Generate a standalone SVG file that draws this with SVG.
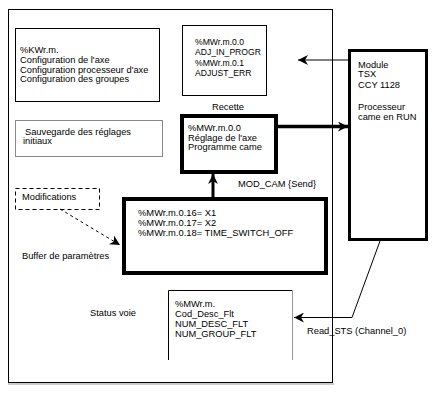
<svg xmlns="http://www.w3.org/2000/svg" width="440" height="406" viewBox="0 0 440 406">
<style>
text{font-family:"Liberation Sans",Arial,sans-serif;font-size:9.3px;fill:#000}
.big{font-size:9.4px}
.sm{font-size:8.6px}
.box{fill:#fff;stroke:#000;stroke-width:1}
.thick{fill:#fff;stroke:#000;stroke-width:4}
.ln{fill:none;stroke:#000;stroke-width:1}
</style>
<defs>
<marker id="ah" viewBox="0 0 10 10" refX="10" refY="5" markerWidth="12" markerHeight="10" markerUnits="userSpaceOnUse" orient="auto">
<path d="M0,0 L10,5 L0,10 L3,5 Z" fill="#000"/>
</marker>
<marker id="ahb" viewBox="0 0 10 10" refX="10" refY="5" markerWidth="12" markerHeight="10" markerUnits="userSpaceOnUse" orient="auto">
<path d="M0,0 L10,5 L0,10 L3,5 Z" fill="#000"/>
</marker>
</defs>
<rect width="440" height="406" fill="#fff"/>
<g id="frame">
<rect x="8.5" y="9.5" width="324" height="373" fill="none" stroke="#000"/>
<line x1="8" y1="384" x2="334" y2="384" stroke="#999"/>
</g>
<g id="config">
<rect class="box" x="15.5" y="28.5" width="144" height="73"/>
<text x="20" y="53">%KWr.m.</text>
<text x="20" y="63">Configuration de l'axe</text>
<text x="20" y="72.5">Configuration processeur d'axe</text>
<text x="20" y="82">Configuration des groupes</text>
</g>
<g id="sauvegarde">
<rect x="15.5" y="120.5" width="147" height="36" fill="#fff" stroke="#888"/>
<text x="25" y="134.5">Sauvegarde des réglages</text>
<text x="23" y="144">initiaux</text>
</g>
<g id="recette">
<rect class="box" x="182.5" y="25.5" width="84" height="70"/>
<text class="sm" x="195" y="45">%MWr.m.0.0</text>
<text class="sm" x="195" y="55">ADJ_IN_PROGR</text>
<text class="sm" x="195" y="66">%MWr.m.0.1</text>
<text class="sm" x="195" y="76">ADJUST_ERR</text>
<text x="228" y="110" text-anchor="middle">Recette</text>
</g>
<g id="reglage">
<rect class="thick" x="182" y="116" width="94" height="56"/>
<text x="188" y="131">%MWr.m.0.0</text>
<text x="188" y="140.5">Réglage de l'axe</text>
<text x="188" y="150">Programme came</text>
</g>
<g id="module">
<rect x="349.5" y="50.5" width="77" height="189" fill="#fff" stroke="#000" stroke-width="3"/>
<text x="358" y="68">Module</text>
<text x="358" y="77">TSX</text>
<text x="358" y="88">CCY 1128</text>
<text x="358" y="110">Processeur</text>
<text x="358" y="120">came en RUN</text>
</g>
<g id="modifications">
<rect x="15.5" y="188.5" width="84" height="21" fill="#fff" stroke="#000" stroke-dasharray="4,3"/>
<text x="22" y="200">Modifications</text>
</g>
<g id="buffer">
<rect class="thick" x="124" y="199" width="202" height="74"/>
<text class="big" x="138" y="216">%MWr.m.0.16= X1</text>
<text class="big" x="138" y="226">%MWr.m.0.17= X2</text>
<text class="big" x="138" y="236">%MWr.m.0.18= TIME_SWITCH_OFF</text>
<text x="22" y="259">Buffer de paramètres</text>
</g>
<g id="status">
<path d="M168.5,360 V290.5 H292" fill="none" stroke="#000"/>
<line x1="292.5" y1="290" x2="292.5" y2="360" stroke="#999"/>
<text x="175" y="307">%MWr.m.</text>
<text x="175" y="317">Cod_Desc_Flt</text>
<text x="175" y="327">NUM_DESC_FLT</text>
<text x="175" y="336.5">NUM_GROUP_FLT</text>
<text x="90" y="316">Status voie</text>
</g>
<g id="connectors">
<line class="ln" x1="348" y1="60" x2="298" y2="60" marker-end="url(#ah)"/>
<line x1="278" y1="126.5" x2="348" y2="126.5" stroke="#000" stroke-width="3.5" marker-end="url(#ahb)"/>
<line x1="213" y1="197" x2="213" y2="174" stroke="#000" stroke-width="3" marker-end="url(#ahb)"/>
<text x="238" y="187">MOD_CAM {Send}</text>
<line x1="60" y1="209" x2="120" y2="245" stroke="#000" stroke-dasharray="3,3" marker-end="url(#ah)"/>
<polyline class="ln" points="380,241 352,317.5 294,317.5" marker-end="url(#ah)"/>
<text x="307" y="334">Read_STS (Channel_0)</text>
</g>
</svg>
